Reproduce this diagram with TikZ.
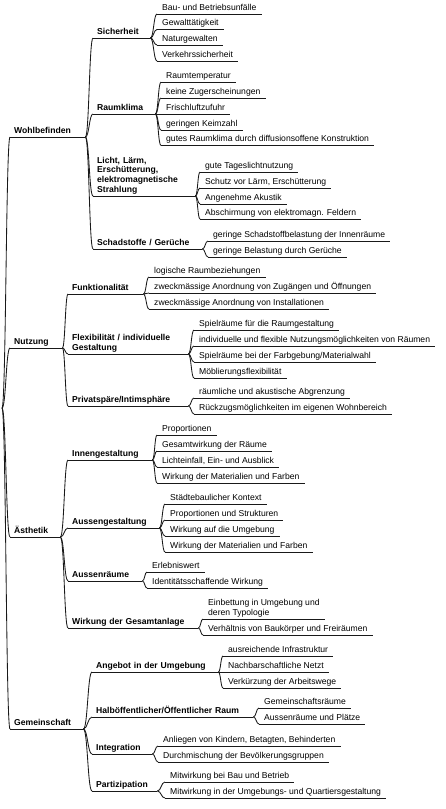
\documentclass[tikz,border=0pt]{standalone}
\usepackage{fontspec}
\setmainfont{Liberation Sans}
\usetikzlibrary{calc}
\tikzset{
  txtbase/.style={anchor=south west, inner ysep=0pt, align=left,
    execute at end node={\rule[-3.6pt]{0pt}{3.6pt}}},
  leaf/.style={txtbase, inner xsep=5pt, font=\fontsize{8.6}{9.7}\selectfont},
  topic/.style={txtbase, inner xsep=4pt, text width=#1, font=\fontsize{8.6}{9.7}\selectfont\bfseries},
  lnk/.style={line width=0.85pt, draw=black!90},
  ul/.style={line width=0.85pt, draw=black!90},
}
\newcommand\mylink[2]{\foreach \ch in {#2}{\draw[lnk] let \p1=(#1.south east), \p2=(\ch.south west) in (\p1) .. controls ({(\x1+\x2)/2},\y1) and ({(\x1+\x2)/2},\y2) .. (\p2);}}
\begin{document}
\begin{tikzpicture}[x=1pt,y=-1pt]
\useasboundingbox (0,0) rectangle (446,809);
\coordinate (root) at (2,408);
% level 1
\node[topic=67] (w) at (10,137) {Wohlbefinden};
\node[topic=44] (n) at (10,348) {Nutzung};
\node[topic=42] (ae) at (10,537) {Ästhetik};
\node[topic=65] (g) at (10,729) {Gemeinschaft};
% Wohlbefinden
\node[topic=49] (w1) at (93,38) {Sicherheit};
\node[topic=54] (w2) at (93,114) {Raumklima};
\node[topic=94] (w3) at (93,196) {Licht, Lärm,\\Erschütterung,\\elektromagnetische\\Strahlung};
\node[topic=101] (w4) at (93,249) {Schadstoffe / Gerüche};
\node[leaf] (w1a) at (157,14) {Bau- und Betriebsunfälle};
\node[leaf] (w1b) at (157,29.5) {Gewalttätigkeit};
\node[leaf] (w1c) at (157,45) {Naturgewalten};
\node[leaf] (w1d) at (157,61) {Verkehrssicherheit};
\node[leaf] (w2a) at (161,82) {Raumtemperatur};
\node[leaf] (w2b) at (161,98) {keine Zugerscheinungen};
\node[leaf] (w2c) at (161,114) {Frischluftzufuhr};
\node[leaf] (w2d) at (161,130) {geringen Keimzahl};
\node[leaf] (w2e) at (161,145.5) {gutes Raumklima durch diffusionsoffene Konstruktion};
\node[leaf] (w3a) at (200,172) {gute Tageslichtnutzung};
\node[leaf] (w3b) at (200,188) {Schutz vor Lärm, Erschütterung};
\node[leaf] (w3c) at (200,204) {Angenehme Akustik};
\node[leaf] (w3d) at (200,219) {Abschirmung von elektromagn. Feldern};
\node[leaf] (w4a) at (208,241) {geringe Schadstoffbelastung der Innenräume};
\node[leaf] (w4b) at (208,257) {geringe Belastung durch Gerüche};
% Nutzung
\node[topic=67] (n1) at (68,294) {Funktionalität};
\node[topic=112] (n2) at (68,354) {Flexibilität / individuelle\\Gestaltung};
\node[topic=112] (n3) at (68,406) {Privatspäre/Intimsphäre};
\node[leaf] (n1a) at (149,277) {logische Raumbeziehungen};
\node[leaf] (n1b) at (149,293) {zweckmässige Anordnung von Zugängen und Öffnungen};
\node[leaf] (n1c) at (149,309) {zweckmässige Anordnung von Installationen};
\node[leaf] (n2a) at (194,330) {Spielräume für die Raumgestaltung};
\node[leaf] (n2b) at (194,346) {individuelle und flexible Nutzungsmöglichkeiten von Räumen};
\node[leaf] (n2c) at (194,362) {Spielräume bei der Farbgebung/Materialwahl};
\node[leaf] (n2d) at (194,378) {Möblierungsflexibilität};
\node[leaf] (n3a) at (194,398) {räumliche und akustische Abgrenzung};
\node[leaf] (n3b) at (194,414) {Rückzugsmöglichkeiten im eigenen Wohnbereich};
% Aesthetik
\node[topic=76] (a1) at (68,460) {Innengestaltung};
\node[topic=83] (a2) at (68,528) {Aussengestaltung};
\node[topic=66] (a3) at (68,581) {Aussenräume};
\node[topic=122] (a4) at (68,628) {Wirkung der Gesamtanlage};
\node[leaf] (a1a) at (157,435) {Proportionen};
\node[leaf] (a1b) at (157,451) {Gesamtwirkung der Räume};
\node[leaf] (a1c) at (157,467) {Lichteinfall, Ein- und Ausblick};
\node[leaf] (a1d) at (157,483) {Wirkung der Materialien und Farben};
\node[leaf] (a2a) at (165,504) {Städtebaulicher Kontext};
\node[leaf] (a2b) at (165,520) {Proportionen und Strukturen};
\node[leaf] (a2c) at (165,536) {Wirkung auf die Umgebung};
\node[leaf] (a2d) at (165,552) {Wirkung der Materialien und Farben};
\node[leaf] (a3a) at (147,572) {Erlebniswert};
\node[leaf] (a3b) at (147,588) {Identitätsschaffende Wirkung};
\node[leaf] (a4a) at (203,619) {Einbettung in Umgebung und\\deren Typologie};
\node[leaf] (a4b) at (203,635) {Verhältnis von Baukörper und Freiräumen};
% Gemeinschaft
\node[topic=118] (g1) at (92,672) {Angebot in der Umgebung};
\node[topic=153] (g2) at (92,717) {Halböffentlicher/Öffentlicher Raum};
\node[topic=52] (g3) at (92,754) {Integration};
\node[topic=57] (g4) at (92,791) {Partizipation};
\node[leaf] (g1a) at (223,656) {ausreichende Infrastruktur};
\node[leaf] (g1b) at (223,672) {Nachbarschaftliche Netzt};
\node[leaf] (g1c) at (223,688) {Verkürzung der Arbeitswege};
\node[leaf] (g2a) at (259,708) {Gemeinschaftsräume};
\node[leaf] (g2b) at (259,724) {Aussenräume und Plätze};
\node[leaf] (g3a) at (158,746) {Anliegen von Kindern, Betagten, Behinderten};
\node[leaf] (g3b) at (158,762) {Durchmischung der Bevölkerungsgruppen};
\node[leaf] (g4a) at (165,782) {Mitwirkung bei Bau und Betrieb};
\node[leaf] (g4b) at (165,798) {Mitwirkung in der Umgebungs- und Quartiersgestaltung};
% underlines
\foreach \u in {w,n,ae,g,w1,w2,w3,w4,w1a,w1b,w1c,w1d,w2a,w2b,w2c,w2d,w2e,w3a,w3b,w3c,w3d,w4a,w4b,
  n1,n2,n3,n1a,n1b,n1c,n2a,n2b,n2c,n2d,n3a,n3b,
  a1,a2,a3,a4,a1a,a1b,a1c,a1d,a2a,a2b,a2c,a2d,a3a,a3b,a4a,a4b,
  g1,g2,g3,g4,g1a,g1b,g1c,g2a,g2b,g3a,g3b,g4a,g4b}
  \draw[ul] (\u.south west) -- (\u.south east);
% connectors
\foreach \ch in {w,n,ae,g}
  \draw[lnk] let \p1=(root), \p2=(\ch.south west) in (\p1) .. controls ({(\x1+\x2)/2},\y1) and ({(\x1+\x2)/2},\y2) .. (\p2);
\mylink{w}{w1,w2,w3,w4}
\mylink{w1}{w1a,w1b,w1c,w1d}
\mylink{w2}{w2a,w2b,w2c,w2d,w2e}
\mylink{w3}{w3a,w3b,w3c,w3d}
\mylink{w4}{w4a,w4b}
\mylink{n}{n1,n2,n3}
\mylink{n1}{n1a,n1b,n1c}
\mylink{n2}{n2a,n2b,n2c,n2d}
\mylink{n3}{n3a,n3b}
\mylink{ae}{a1,a2,a3,a4}
\mylink{a1}{a1a,a1b,a1c,a1d}
\mylink{a2}{a2a,a2b,a2c,a2d}
\mylink{a3}{a3a,a3b}
\mylink{a4}{a4a,a4b}
\mylink{g}{g1,g2,g3,g4}
\mylink{g1}{g1a,g1b,g1c}
\mylink{g2}{g2a,g2b}
\mylink{g3}{g3a,g3b}
\mylink{g4}{g4a,g4b}
\end{tikzpicture}
\end{document}
